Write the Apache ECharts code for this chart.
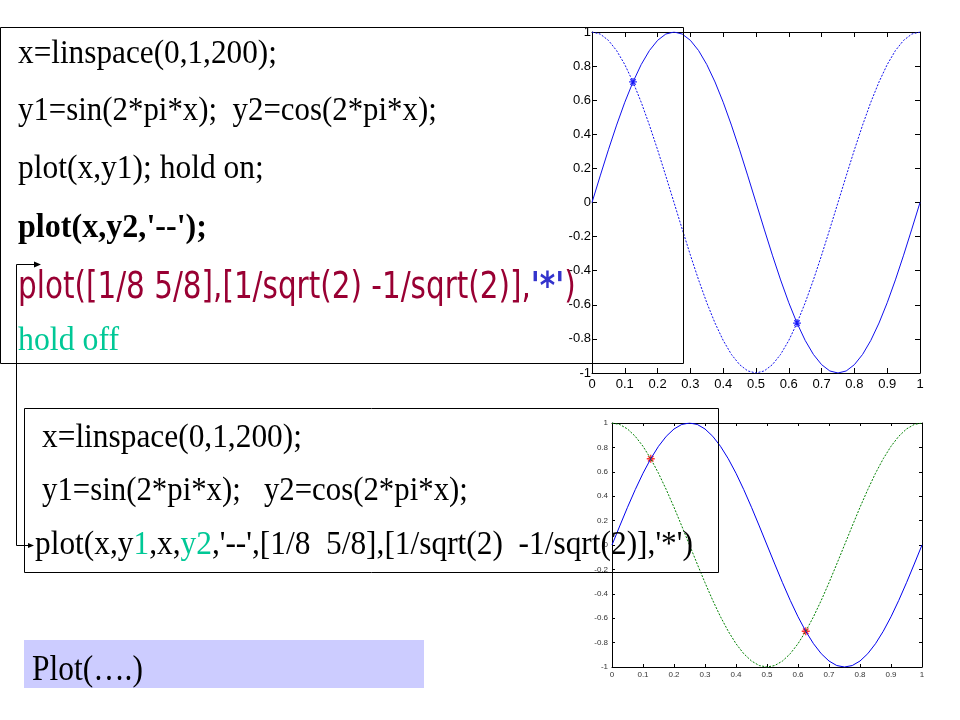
<!DOCTYPE html>
<html><head><meta charset="utf-8">
<script src="https://cdn.jsdelivr.net/npm/echarts@6/dist/echarts.min.js"></script>
<style>html,body{margin:0;padding:0;background:#fff}#c{width:960px;height:720px}</style>
</head><body><div id="c"></div>
<script>
// ---- data ----
const xs = [0,0.025,0.05,0.075,0.1,0.125,0.15,0.175,0.2,0.225,0.25,0.275,0.3,0.325,0.35,0.375,0.4,0.425,0.45,0.475,0.5,
            0.525,0.55,0.575,0.6,0.625,0.65,0.675,0.7,0.725,0.75,0.775,0.8,0.825,0.85,0.875,0.9,0.925,0.95,0.975,1];
const sinVals = [0,0.156,0.309,0.454,0.588,0.707,0.809,0.891,0.951,0.988,1,0.988,0.951,0.891,0.809,0.707,0.588,0.454,0.309,0.156,0,
                 -0.156,-0.309,-0.454,-0.588,-0.707,-0.809,-0.891,-0.951,-0.988,-1,-0.988,-0.951,-0.891,-0.809,-0.707,-0.588,-0.454,-0.309,-0.156,0];
const cosVals = [1,0.988,0.951,0.891,0.809,0.707,0.588,0.454,0.309,0.156,0,-0.156,-0.309,-0.454,-0.588,-0.707,-0.809,-0.891,-0.951,-0.988,-1,
                 -0.988,-0.951,-0.891,-0.809,-0.707,-0.588,-0.454,-0.309,-0.156,0,0.156,0.309,0.454,0.588,0.707,0.809,0.891,0.951,0.988,1];
const starX = [0.125, 0.625];
const starY = [0.707, -0.707];
const xTickLabels = ['0','0.1','0.2','0.3','0.4','0.5','0.6','0.7','0.8','0.9','1'];
const yTickLabels = ['-1','-0.8','-0.6','-0.4','-0.2','0','0.2','0.4','0.6','0.8','1'];

// ---- helpers ----
const SERIF = "'Liberation Serif','Times New Roman',serif";
const SANS = "'DejaVu Sans Condensed','DejaVu Sans',sans-serif";
const NARROW = "'Liberation Sans Narrow','Liberation Sans',Arial,sans-serif";
const ctx = document.createElement('canvas').getContext('2d');
function fitSize(runs, family, target) {
  let w = 0;
  runs.forEach(r => { ctx.font = (r.weight || 'normal') + ' 100px ' + family; w += ctx.measureText(r.t).width; });
  return 100 * target / w;
}
function textEl(x, baseline, runs, family, target, sy) {
  sy = sy || 1.08;
  const size = fitSize(runs, family, target);
  const rich = {};
  let text = '';
  runs.forEach((r, i) => {
    text += '{r' + i + '|' + r.t + '}';
    rich['r' + i] = { fontSize: size, fontFamily: family, fontWeight: r.weight || 'normal', fill: r.fill || '#000' };
  });
  return { type: 'text', x: x, y: baseline - 0.25 * size * sy, scaleY: sy, z: 110, silent: true,
    style: { text: text, rich: rich, align: 'left', verticalAlign: 'middle' } };
}
function xAx(grid, pos, show, fs, col, fam, tick, margin) {
  return { type: 'value', gridIndex: grid, position: pos, min: 0, max: 1, interval: 0.1,
    axisLine: { show: true, onZero: false, lineStyle: { color: '#000', width: 1 } },
    axisTick: { show: true, inside: true, length: tick, lineStyle: { color: '#000' } },
    axisLabel: { show: show, margin: margin, fontSize: fs, color: col, fontFamily: fam,
      showMinLabel: true, showMaxLabel: true, hideOverlap: false,
      formatter: v => xTickLabels[Math.round(v * 10)] },
    splitLine: { show: false } };
}
function yAx(grid, pos, show, fs, col, fam, tick, margin) {
  return { type: 'value', gridIndex: grid, position: pos, min: -1, max: 1, interval: 0.2,
    axisLine: { show: true, onZero: false, lineStyle: { color: '#000', width: 1 } },
    axisTick: { show: true, inside: true, length: tick, lineStyle: { color: '#000' } },
    axisLabel: { show: show, margin: margin, fontSize: fs, color: col, fontFamily: fam,
      showMinLabel: true, showMaxLabel: true, hideOverlap: false,
      formatter: v => yTickLabels[Math.round((v + 1) * 5)] },
    splitLine: { show: false } };
}
const sinData = xs.map((x, i) => [x, sinVals[i]]);
const cosData = xs.map((x, i) => [x, cosVals[i]]);
const starData = starX.map((x, i) => [x, starY[i]]);
const STAR = 'path://M5,0L5,10M0,5L10,5M1.6,1.6L8.4,8.4M1.6,8.4L8.4,1.6';

const graphics = [
  { type: 'rect', z: 100, silent: true, shape: { x: 0.5, y: 27.5, width: 683, height: 336 }, style: { fill: 'none', stroke: '#000', lineWidth: 1 } },
  { type: 'rect', z: 100, silent: true, shape: { x: 24.5, y: 408.5, width: 694, height: 164 }, style: { fill: 'none', stroke: '#000', lineWidth: 1 } },
  { type: 'rect', z: 90, silent: true, shape: { x: 24, y: 640, width: 400, height: 48 }, style: { fill: '#ccccff' } },
  { type: 'polyline', z: 100, silent: true, shape: { points: [[38, 264.5], [16.5, 264.5], [16.5, 545.5], [31, 545.5]] }, style: { fill: 'none', stroke: '#000', lineWidth: 1 } },
  { type: 'polygon', z: 100, silent: true, shape: { points: [[41, 264.5], [34, 261.5], [34, 267.5]] }, style: { fill: '#000' } },
  { type: 'polygon', z: 100, silent: true, shape: { points: [[34, 545.5], [28, 543], [28, 548]] }, style: { fill: '#000' } },
  textEl(18, 63, [{ t: 'x=linspace(0,1,200);' }], SERIF, 259),
  textEl(18, 120, [{ t: 'y1=sin(2*pi*x);  y2=cos(2*pi*x);' }], SERIF, 419),
  textEl(18, 178, [{ t: 'plot(x,y1); hold on;' }], SERIF, 246),
  textEl(18, 237, [{ t: "plot(x,y2,'--');", weight: 'bold' }], SERIF, 189),
  textEl(18, 298, [{ t: 'plot([1/8 5/8],[1/sqrt(2) -1/sqrt(2)],', fill: '#990033' }, { t: "'*'", fill: '#3333cc', weight: 'bold' }, { t: ')', fill: '#990033' }], SANS, 558, 1.12),
  textEl(18, 350, [{ t: 'hold off', fill: '#00c896' }], SERIF, 101),
  textEl(42, 447, [{ t: 'x=linspace(0,1,200);' }], SERIF, 260),
  textEl(42, 500, [{ t: 'y1=sin(2*pi*x);   y2=cos(2*pi*x);' }], SERIF, 426),
  textEl(35, 554, [{ t: 'plot(x,y' }, { t: '1', fill: '#00c896' }, { t: ',x,' }, { t: 'y2', fill: '#00c896' }, { t: ",'--',[1/8  5/8],[1/sqrt(2)  -1/sqrt(2)],'*')" }], SERIF, 658),
  textEl(32, 680, [{ t: 'Plot(….)' }], SERIF, 111, 1.12)
];

const option = {
  animation: false,
  backgroundColor: '#fff',
  grid: [
    { left: 592, top: 32, width: 328, height: 341, outerBoundsMode: 'none', containLabel: false },
    { left: 612, top: 423, width: 310, height: 244, outerBoundsMode: 'none', containLabel: false }
  ],
  xAxis: [
    xAx(0, 'bottom', true, 13, '#000', NARROW, 5, 5),
    xAx(0, 'top', false, 13, '#000', NARROW, 5, 5),
    xAx(1, 'bottom', true, 8, '#333', "'Liberation Sans',Arial,sans-serif", 3, 4),
    xAx(1, 'top', false, 8, '#333', "'Liberation Sans',Arial,sans-serif", 3, 4)
  ],
  yAxis: [
    yAx(0, 'left', true, 13, '#000', NARROW, 5, 1),
    yAx(0, 'right', false, 13, '#000', NARROW, 5, 1),
    yAx(1, 'left', true, 8, '#333', "'Liberation Sans',Arial,sans-serif", 3, 4),
    yAx(1, 'right', false, 8, '#333', "'Liberation Sans',Arial,sans-serif", 3, 4)
  ],
  series: [
    { type: 'line', xAxisIndex: 0, yAxisIndex: 0, data: sinData, showSymbol: false, silent: true, lineStyle: { color: '#1010ee', width: 1 } },
    { type: 'line', xAxisIndex: 0, yAxisIndex: 0, data: cosData, showSymbol: false, silent: true, lineStyle: { color: '#1010ee', width: 1, type: [2, 1.5] } },
    { type: 'scatter', xAxisIndex: 0, yAxisIndex: 0, data: starData, symbol: STAR, symbolSize: 8, silent: true, itemStyle: { color: 'rgba(0,0,0,0)', borderColor: '#0000ff', borderWidth: 1.3 } },
    { type: 'line', xAxisIndex: 2, yAxisIndex: 2, data: sinData, showSymbol: false, silent: true, lineStyle: { color: '#0000ee', width: 1 } },
    { type: 'line', xAxisIndex: 2, yAxisIndex: 2, data: cosData, showSymbol: false, silent: true, lineStyle: { color: '#008000', width: 1, type: [2, 1.5] } },
    { type: 'scatter', xAxisIndex: 2, yAxisIndex: 2, data: starData, symbol: STAR, symbolSize: 8, silent: true, itemStyle: { color: 'rgba(0,0,0,0)', borderColor: '#ff0000', borderWidth: 1.3 } }
  ],
  graphic: graphics
};
const chart = echarts.init(document.getElementById('c'), null, { renderer: 'canvas' });
chart.setOption(option);
</script>
</body></html>
